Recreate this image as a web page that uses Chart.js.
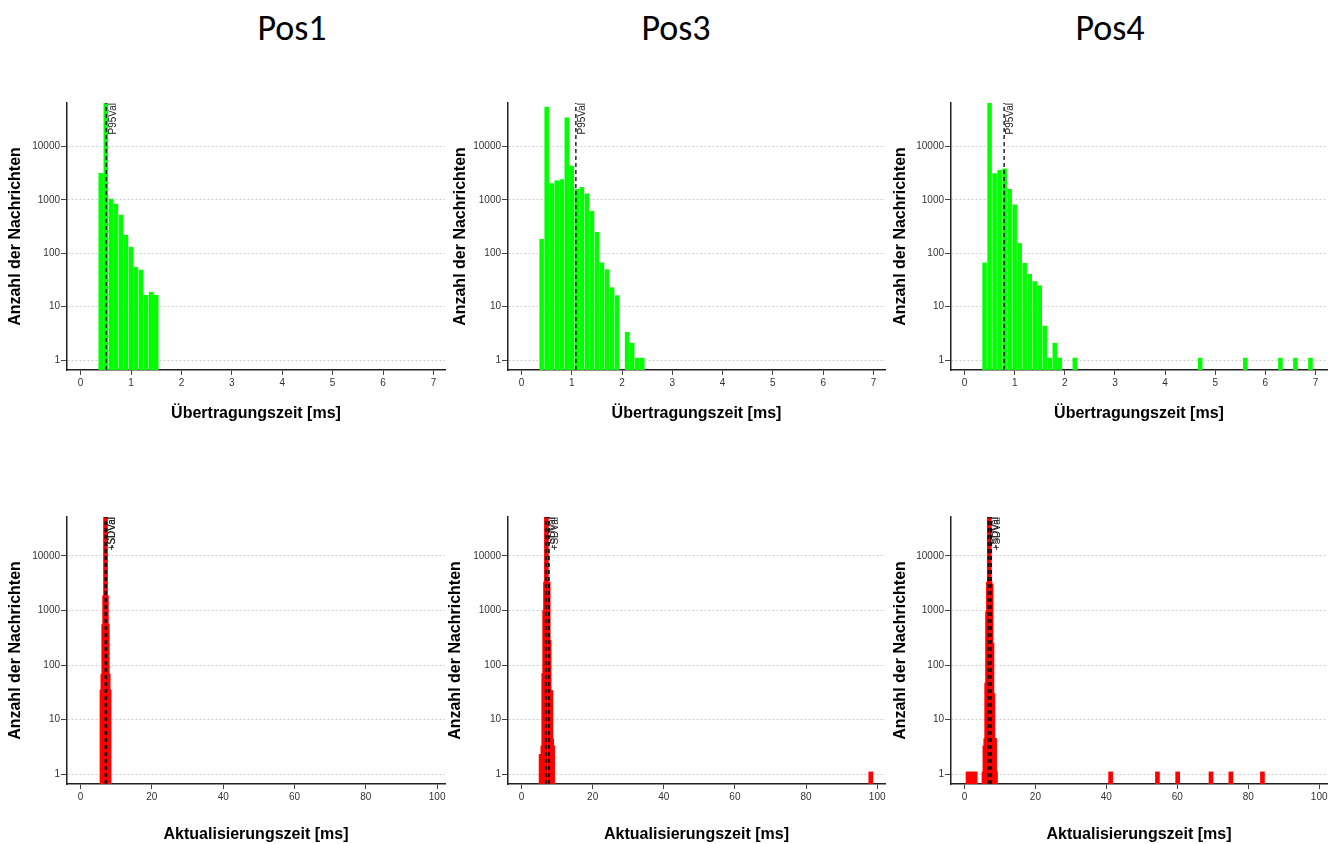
<!DOCTYPE html>
<html>
<head>
<meta charset="utf-8">
<script src="https://cdn.jsdelivr.net/npm/chart.js@4"></script>
<style>
  body { margin: 0; width: 1338px; height: 844px; background: #fff; position: relative; overflow: hidden; }
  canvas { position: absolute; }
  .title { position: absolute; width: 200px; text-align: center; font-family: Carlito, Lato, "Open Sans", sans-serif; font-size: 36px; line-height: 40px; color: #000; }
</style>
</head>
<body>
<div class="title" style="left:192px; top:8px">Pos1</div>
<div class="title" style="left:576px; top:8px">Pos3</div>
<div class="title" style="left:1010px; top:8px">Pos4</div>

<canvas id="t1" width="452" height="335" style="left:0px; top:95px"></canvas>
<canvas id="t2" width="447" height="335" style="left:445px; top:95px"></canvas>
<canvas id="t3" width="453" height="335" style="left:885px; top:95px"></canvas>
<canvas id="b1" width="452" height="339" style="left:0px; top:505px"></canvas>
<canvas id="b2" width="452" height="339" style="left:440px; top:505px"></canvas>
<canvas id="b3" width="453" height="339" style="left:885px; top:505px"></canvas>

<script>
// --- data: histogram bin centres [ms] and message counts ---
const countTicks = [1, 10, 100, 1000, 10000];
const transTicks = [0, 1, 2, 3, 4, 5, 6, 7];
const updTicks = [0, 20, 40, 60, 80, 100];

// Übertragungszeit (top row)
const pos1TransX = [0.4, 0.5, 0.6, 0.7, 0.8, 0.9, 1.0, 1.1, 1.2, 1.3, 1.4, 1.5];
const pos1TransN = [3200, 70000, 1050, 850, 525, 220, 132, 55, 49, 16.6, 18.9, 16.6];

const pos3TransX = [0.4, 0.5, 0.6, 0.7, 0.8, 0.9, 1.0, 1.1, 1.2, 1.3, 1.4, 1.5, 1.6, 1.7, 1.8, 1.9, 2.1, 2.2, 2.3, 2.4];
const pos3TransN = [185, 56000, 2050, 2300, 2450, 35000, 4350, 1600, 1750, 1320, 620, 250, 67, 50, 23, 16.3, 3.35, 2.1, 1.1, 1.1];

const pos4TransX = [0.4, 0.5, 0.6, 0.7, 0.8, 0.9, 1.0, 1.1, 1.2, 1.3, 1.4, 1.5, 1.6, 1.7, 1.8, 1.9, 2.2, 4.7, 5.6, 6.3, 6.6, 6.9];
const pos4TransN = [67, 70000, 3160, 3650, 3900, 1600, 820, 155, 66, 41, 30, 25, 4.4, 1.1, 2.1, 1.1, 1.1, 1.1, 1.1, 1.1, 1.1, 1.1];

const pos1P95 = 0.51;
const pos3P95 = 1.08;
const pos4P95 = 0.79;

// Aktualisierungszeit (bottom row)
const pos1UpdX = [6.0, 6.25, 6.5, 6.75, 7.0, 7.25, 7.5, 7.75, 8.0];
const pos1UpdN = [35, 68, 550, 1850, 60000, 1850, 550, 68, 35];

const pos3UpdX = [5.5, 5.75, 6.0, 6.25, 6.5, 6.75, 7.0, 7.25, 7.5, 7.75, 8.0, 8.25, 8.5, 8.75, 98.2];
const pos3UpdN = [2.3, 2.3, 3.3, 70, 1000, 3300, 60000, 3300, 3300, 285, 34, 34, 4.4, 3.3, 1.1];

const pos4UpdX = [1.0, 2.0, 3.0, 5.5, 5.75, 6.0, 6.25, 6.5, 6.75, 7.0, 7.25, 7.5, 7.75, 8.0, 8.25, 8.5, 8.75, 41.2, 54.4, 60.1, 69.5, 75.1, 84.0];
const pos4UpdN = [1.1, 1.1, 1.1, 1.1, 3.3, 4.5, 47, 950, 3300, 60000, 3300, 3000, 250, 30, 4.5, 4.5, 1.1, 1.1, 1.1, 1.1, 1.1, 1.1, 1.1];

const pos1Sd = [7.0, 7.2];
const pos3Sd = [6.85, 7.7];
const pos4Sd = [6.8, 7.5];
const sdLabels = ['-SDVal', '+SDVal'];

// dashed marker lines with rotated labels
const markerPlugin = {
    id: 'markers',
    afterDatasetsDraw(chart, args, opts) {
        const { ctx, chartArea: a } = chart;
        const x = chart.scales.x;
        ctx.save();
        opts.values.forEach((v, i) => {
            const px = x.getPixelForValue(v);
            ctx.setLineDash([4, 3]);
            ctx.lineWidth = opts.width;
            ctx.strokeStyle = 'rgba(0,0,0,0.85)';
            ctx.beginPath();
            ctx.moveTo(px, a.bottom);
            ctx.lineTo(px, a.top);
            ctx.stroke();
            if (opts.labels[i]) {
                ctx.save();
                ctx.translate(px + 1.5, a.top);
                ctx.rotate(-Math.PI / 2);
                ctx.font = '10px "Liberation Sans", Arial, sans-serif';
                ctx.fillStyle = '#222';
                ctx.textAlign = 'right';
                ctx.textBaseline = 'top';
                ctx.fillText(opts.labels[i], 0, 0);
                ctx.restore();
            }
        });
        ctx.restore();
    }
};

function makePanel(id, cfg) {
    const tickFont = { family: 'Liberation Sans', size: 10 };
    const titleFont = { family: 'Liberation Sans', size: 16, weight: 'bold' };
    const points = cfg.xs.map((v, i) => ({ x: v, y: cfg.ns[i] }));

    const dataset = {
        data: points,
        backgroundColor: cfg.color,
        borderWidth: 0,
        categoryPercentage: 1.0,
        barPercentage: cfg.barPct || 1.0
    };
    if (cfg.thickness) dataset.barThickness = cfg.thickness;

    return new Chart(document.getElementById(id), {
        type: 'bar',
        data: { datasets: [dataset] },
        plugins: [markerPlugin],
        options: {
            responsive: false,
            animation: false,
            layout: { padding: { top: cfg.padTop, right: cfg.padRight, left: 0, bottom: 0 } },
            plugins: {
                legend: { display: false },
                tooltip: { enabled: false },
                markers: { values: cfg.lines, labels: cfg.labels, width: cfg.lineWidth }
            },
            scales: {
                x: {
                    type: 'linear',
                    offset: false,
                    min: cfg.xMin,
                    max: cfg.xMax,
                    afterBuildTicks: s => { s.ticks = cfg.xTicks.map(v => ({ value: v })); },
                    afterFit: s => { s.height = 60; },
                    ticks: { font: tickFont, color: '#333', padding: 2, maxRotation: 0, autoSkip: false },
                    grid: { offset: false, drawOnChartArea: false, drawTicks: true, tickLength: 5, tickColor: '#444' },
                    border: { color: '#222', width: 1.5 },
                    title: { display: true, text: cfg.xTitle, font: titleFont, color: '#000', padding: { top: 2, bottom: cfg.xTitlePad } }
                },
                y: {
                    type: 'logarithmic',
                    min: cfg.yMin,
                    max: cfg.yMax,
                    afterBuildTicks: s => { s.ticks = countTicks.map(v => ({ value: v })); },
                    afterFit: s => { s.width = cfg.yWidth; },
                    ticks: { font: tickFont, color: '#333', padding: 1, callback: v => String(v) },
                    grid: { color: '#cfcfcf', lineWidth: 1, tickLength: 6, tickColor: '#444' },
                    border: { color: '#222', width: 1.5, dash: [2, 2] },
                    title: { display: true, text: 'Anzahl der Nachrichten', font: titleFont, color: '#000', padding: { top: 6, bottom: 0 } }
                }
            }
        }
    });
}

const topCommon = { xMin: -0.27, xMax: 7.23, yMin: 0.65, yMax: 65500, xTicks: transTicks,
    xTitle: 'Übertragungszeit [ms]', xTitlePad: 7, padTop: 8, color: '#00ff00', barPct: 0.9, lineWidth: 1.5 };
const botCommon = { xMin: -3.8, xMax: 102.2, yMin: 0.66, yMax: 51700, xTicks: updTicks,
    xTitle: 'Aktualisierungszeit [ms]', xTitlePad: 0, padTop: 12, color: '#ff0000', thickness: 4, lineWidth: 2 };

makePanel('t1', { ...topCommon, xs: pos1TransX, ns: pos1TransN, yWidth: 67, padRight: 7, lines: [pos1P95], labels: ['P95Val'] });
makePanel('t2', { ...topCommon, xs: pos3TransX, ns: pos3TransN, yWidth: 63, padRight: 7, lines: [pos3P95], labels: ['P95Val'] });
makePanel('t3', { ...topCommon, xs: pos4TransX, ns: pos4TransN, yWidth: 66, padRight: 11, lines: [pos4P95], labels: ['P95Val'] });
makePanel('b1', { ...botCommon, xs: pos1UpdX, ns: pos1UpdN, yWidth: 67, padRight: 7, lines: pos1Sd, labels: sdLabels });
makePanel('b2', { ...botCommon, xs: pos3UpdX, ns: pos3UpdN, yWidth: 68, padRight: 7, lines: pos3Sd, labels: sdLabels });
makePanel('b3', { ...botCommon, xs: pos4UpdX, ns: pos4UpdN, yWidth: 66, padRight: 11, lines: pos4Sd, labels: sdLabels });
</script>
</body>
</html>
